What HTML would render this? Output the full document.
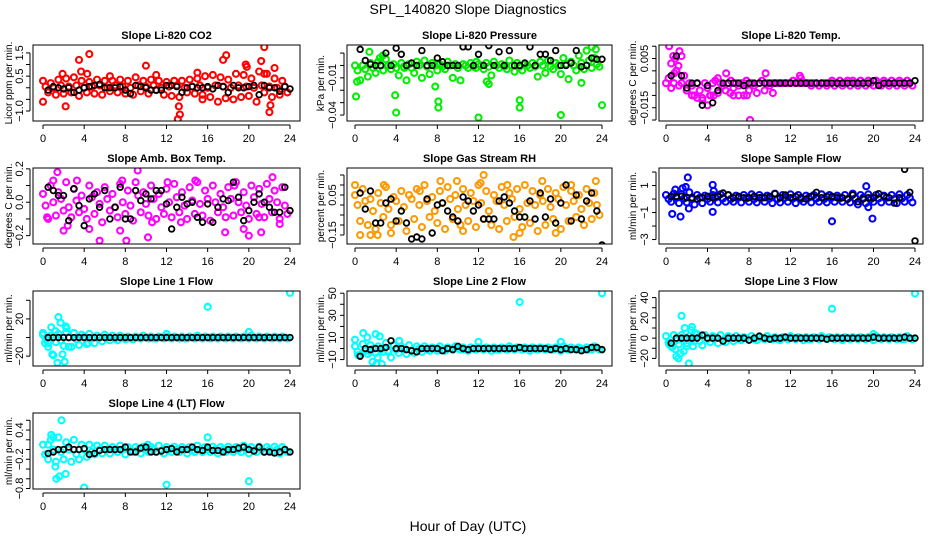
<!DOCTYPE html>
<html><head><meta charset="utf-8"><style>
html,body{margin:0;padding:0;background:#fff;}
svg{display:block;font-family:"Liberation Sans",Arial,sans-serif;}
</style></head><body>
<svg id="chart" width="936" height="540" viewBox="0 0 936 540" xmlns="http://www.w3.org/2000/svg">
<text x="468" y="14" text-anchor="middle" font-size="14">SPL_140820  Slope Diagnostics</text>
<text x="468" y="531" text-anchor="middle" font-size="14">Hour of Day (UTC)</text>
</svg>
<script>
const xTicks=[0,4,8,12,16,20,24];
// ---- panel data ----
const co2Band=[0.3,0.05,-0.2,0.2,0.0,-0.3,0.35,0.1,-0.25,0.4,0.05,-0.2,0.45,0.1,-0.35,0.3,0.0,-0.2,0.25,0.05,-0.25,0.35,0.1,-0.3,
0.3,0.0,-0.15,0.3,0.1,-0.2,0.35,0.05,-0.25,0.3,0.0,-0.3,0.45,0.1,-0.15,0.3,0.05,-0.25,0.35,0.1,-0.1,0.3,0.0,-0.3,
0.25,0.05,-0.35,0.3,0.1,-0.4,0.3,0.0,-0.2,0.35,0.05,-0.25,0.4,0.1,-0.5,0.5,0.0,-0.4,0.55,0.1,-0.6,0.45,0.05,-0.45,
0.35,0.0,-0.5,0.6,0.1,-0.4,0.55,0.05,-0.35,0.4,0.0,-0.6,0.7,0.1,-0.2,0.6,0.05,-0.4,0.4,0.0,-0.3,0.3,0.05,-0.2];
const co2OutX=[0,4.5,3.5,4.3,3.7,6.5,10,11,13.2,13.1,13.3,15,15.5,17.8,17.5,19.7,19.8,21.2,21.5,21.5,22,22.1,22.5,2.2,1.9];
const co2OutY=[-0.6,1.45,1.2,0.6,0.7,0.5,0.95,0.55,-0.8,-1.35,-1.15,0.65,-0.3,1.4,1.2,1.0,0.9,1.15,1.75,0.6,-1.05,-0.75,0.85,-0.8,0.6];
const co2Black=[-0.1,0.05,0.0,-0.05,0.0,-0.2,-0.1,0.0,0.05,0.1,0.15,0.0,0.0,0.0,0.05,-0.1,-0.25,0.1,0.05,0.0,-0.1,-0.1,-0.1,0.1,0.1,0.05,-0.2,0.0,0.05,0.0,0.0,0.05,-0.05,0.1,0.05,-0.2,0.1,0.0,0.0,0.05,0.1,-0.3,0.1,0.0,0.0,-0.15,0.05,-0.05];

const presBand=[0.0,-0.004,-0.012,0.0,-0.003,-0.009,0.002,-0.002,-0.006,0.003,0.0,-0.004,0.005,0.0,-0.003,0.001,-0.002,-0.008,0.002,-0.001,-0.012,0.001,-0.002,-0.006,
0.003,0.0,-0.01,0.004,-0.001,-0.007,0.002,0.0,-0.004,0.001,-0.001,-0.003,0.003,0.0,-0.01,0.001,-0.002,-0.012,0.001,0.0,-0.002,0.002,-0.001,-0.002,
0.001,0.0,-0.003,0.002,-0.001,-0.008,0.003,0.0,-0.002,0.001,-0.001,-0.003,0.004,0.0,-0.005,0.002,-0.001,-0.004,0.001,0.0,-0.002,0.002,-0.001,-0.009,
0.003,0.0,-0.006,0.004,-0.001,-0.003,0.002,0.0,-0.007,0.006,0.001,-0.011,0.003,0.0,-0.004,0.008,0.002,-0.003,0.012,0.004,-0.002,0.006,0.001,-0.001];
const presOutX=[0.1,0.2,4,3.9,8.1,8.1,12,16,16,20,24,7.8,13,12.8,22,1.4,4.8,11.8,2.7,2.4,23,23.4];
const presOutY=[-0.025,-0.013,-0.038,-0.024,-0.034,-0.029,-0.042,-0.028,-0.034,-0.040,-0.032,-0.017,-0.015,-0.013,-0.014,0.011,-0.002,0.003,0.008,0.006,0.015,0.013];
const presBlack=[0.013,0.004,0.001,0.0,0.0,0.01,0.0,0.014,0.009,0.0,0.002,0.0,0.012,0.0,0.0,0.006,0.003,0.0,0.0,0.0,0.015,0.015,0.0,0.009,0.0,0.016,0.0,0.011,0.0,0.012,0.0,0.0,0.002,0.015,0.0,0.009,0.009,0.004,0.012,0.0,0.0,0.002,0.012,-0.001,0.0,0.006,0.005,0.005];

const tempBand=[-0.005,-0.003,-0.007,-0.005,0.0,-0.006,-0.005,-0.002,-0.008,-0.005,-0.006,-0.01,-0.005,-0.008,-0.011,-0.005,-0.007,-0.01,-0.005,-0.004,-0.009,-0.005,-0.006,-0.008,
-0.005,-0.004,-0.007,-0.005,-0.006,-0.005,-0.005,-0.004,-0.008,-0.005,-0.006,-0.009,-0.005,-0.004,-0.008,-0.005,-0.006,-0.005,-0.005,-0.005,-0.005,-0.005,-0.005,-0.005,
-0.005,-0.004,-0.005,-0.005,-0.005,-0.005,-0.005,-0.005,-0.006,-0.005,-0.005,-0.006,-0.005,-0.005,-0.006,-0.005,-0.004,-0.006,-0.005,-0.004,-0.006,-0.005,-0.004,-0.006,
-0.004,-0.005,-0.006,-0.004,-0.005,-0.006,-0.004,-0.005,-0.006,-0.004,-0.005,-0.006,-0.004,-0.005,-0.006,-0.004,-0.005,-0.006,-0.004,-0.005,-0.006,-0.004,-0.005,-0.006];
const tempOutX=[0.3,0.4,0.5,0.7,0.9,1.2,1.3,1.5,1.0,0.8,2.0,2.5,3.0,3.5,4.0,4.3,4.6,5.0,5.8,6.2,6.5,7.0,7.5,7.8,8.1,9.6,10.3,13.0,12.9];
const tempOutY=[0.01,0.012,0.003,0.006,0.005,0.002,0.008,0.006,0.0,-0.001,-0.008,-0.01,-0.011,-0.012,-0.014,-0.01,-0.01,-0.003,-0.001,-0.009,-0.01,-0.01,-0.01,-0.01,-0.02,-0.001,-0.009,-0.003,-0.002];
const tempBlack=[-0.002,0.006,-0.002,-0.007,-0.005,-0.005,-0.014,-0.006,-0.013,-0.008,-0.005,-0.005,-0.005,-0.005,-0.006,-0.005,-0.005,-0.005,-0.005,-0.005,-0.005,-0.005,-0.005,-0.005,-0.005,-0.005,-0.005,-0.005,-0.005,-0.005,-0.005,-0.005,-0.005,-0.005,-0.005,-0.005,-0.005,-0.005,-0.005,-0.004,-0.006,-0.005,-0.005,-0.005,-0.005,-0.005,-0.005,-0.004];

const ambBand=[0.05,-0.02,-0.1,0.1,0.0,-0.08,0.06,0.02,-0.05,0.12,-0.03,-0.09,0.08,0.01,-0.06,0.04,-0.04,-0.1,0.1,0.03,-0.07,0.06,-0.01,-0.12,
0.09,0.02,-0.05,0.05,-0.03,-0.09,0.11,0.0,-0.07,0.07,-0.02,-0.11,0.12,0.04,-0.06,0.06,-0.01,-0.08,0.1,0.02,-0.1,0.05,-0.03,-0.07,
0.08,0.0,-0.09,0.11,0.03,-0.06,0.06,-0.02,-0.1,0.09,0.01,-0.07,0.12,-0.01,-0.08,0.07,0.02,-0.11,0.1,0.0,-0.06,0.05,-0.03,-0.09,
0.09,0.02,-0.08,0.12,0.0,-0.06,0.06,-0.02,-0.1,0.1,0.03,-0.07,0.08,-0.01,-0.09,0.11,0.02,-0.06,0.07,0.0,-0.1,0.09,-0.02,-0.07];
const ambOutX=[1.4,1.0,2.0,2.4,3.3,4.5,5.5,7.7,8.1,9.2,10.2,10.6,12.1,13.4,14.8,17.7,18.6,19.5,20.0,21.0,21.2,22.3,23.0,7.5,0.4];
const ambOutY=[0.18,0.13,-0.17,-0.14,0.13,-0.16,-0.23,0.13,-0.23,0.19,-0.21,-0.12,0.12,-0.12,0.13,-0.18,0.10,-0.16,-0.2,-0.09,-0.18,0.15,-0.13,-0.17,-0.09];
const ambBlack=[0.09,0.07,0.04,0.04,-0.11,0.08,-0.02,-0.14,0.02,0.05,-0.03,0.07,-0.1,-0.03,0.09,-0.1,-0.1,0.07,0.01,0.05,0.02,0.07,0.07,-0.01,-0.16,-0.03,0.03,-0.01,0.0,-0.09,-0.12,-0.01,-0.12,-0.03,0.02,0.01,0.12,0.03,-0.11,-0.05,0.0,0.05,0.0,-0.03,-0.06,-0.06,0.09,-0.05];

const rhBand=[0.05,0.0,-0.08,0.08,0.02,-0.1,0.03,-0.03,-0.12,0.06,0.01,-0.06,0.09,-0.02,-0.1,0.04,0.02,-0.08,0.07,-0.01,-0.13,0.05,0.03,-0.07,
0.08,0.0,-0.11,0.1,0.02,-0.06,0.04,-0.03,-0.09,0.07,0.01,-0.12,0.09,0.03,-0.07,0.05,-0.02,-0.1,0.08,0.0,-0.08,0.06,0.02,-0.11,
0.1,0.01,-0.07,0.07,-0.03,-0.1,0.05,0.02,-0.12,0.09,0.0,-0.08,0.06,0.03,-0.06,0.08,-0.02,-0.11,0.1,0.01,-0.09,0.07,0.0,-0.13,
0.05,0.02,-0.1,0.08,-0.01,-0.07,0.06,0.03,-0.12,0.09,0.0,-0.08,0.07,0.02,-0.06,0.05,-0.02,-0.1,0.08,0.01,-0.07,0.06,0.0,-0.05];
const rhOutX=[0,0.5,1.5,2.2,2.8,3.5,8.3,9.9,12.5,12.2,14.8,15.4,18.2,19.5,23.4,21.0,16.0,10.5,6.3];
const rhOutY=[0.1,-0.15,-0.15,-0.15,0.1,-0.14,0.12,0.12,0.15,0.11,0.1,-0.16,0.12,-0.14,0.12,0.1,-0.14,-0.13,0.07];
const rhBlack=[0.06,-0.02,0.07,-0.09,-0.09,0.01,0.03,-0.08,-0.03,-0.09,-0.17,-0.16,-0.17,0.03,-0.14,0.0,0.01,-0.03,-0.06,-0.08,0.04,0.02,-0.03,0.0,-0.07,-0.07,-0.07,0.02,0.04,0.01,-0.03,-0.06,-0.06,0.02,-0.07,0.06,-0.06,0.03,-0.09,0.01,0.1,-0.08,0.05,-0.07,0.02,0.06,-0.03,-0.2];

const sfBand=[0.3,0.0,-0.2,0.4,0.1,-0.3,0.35,0.05,-0.25,0.5,0.0,-0.4,0.3,0.1,-0.3,0.25,0.0,-0.2,0.3,0.1,-0.25,0.35,0.05,-0.2,
0.3,0.0,-0.2,0.25,0.1,-0.25,0.3,0.05,-0.2,0.35,0.0,-0.25,0.3,0.1,-0.2,0.25,0.05,-0.3,0.4,0.0,-0.25,0.3,0.1,-0.2,
0.35,0.05,-0.3,0.3,0.0,-0.2,0.25,0.1,-0.25,0.3,0.05,-0.2,0.35,0.0,-0.25,0.3,0.1,-0.2,0.25,0.05,-0.2,0.3,0.0,-0.25,
0.4,0.05,-0.4,0.3,0.1,-0.3,0.35,0.0,-0.2,0.3,0.05,-0.25,0.25,0.1,-0.2,0.3,0.0,-0.3,0.35,0.05,-0.2,0.3,0.1,-0.25];
const sfOutX=[2.1,1.9,0.6,1.4,4.5,4.6,4.5,0.9,19.3,19.5,19.9,16.0,1.6,2.2];
const sfOutY=[1.6,0.9,-1.1,-1.3,1.05,0.6,-0.95,0.7,0.95,-0.6,-1.45,-1.65,0.8,-0.7];
const sfBlack=[0.2,0.2,0.2,0.1,0.1,0.0,0.1,0.2,0.1,0.2,0.45,0.3,0.1,0.2,0.1,0.1,0.2,0.1,0.1,0.2,0.4,0.1,0.3,0.1,0.2,0.1,0.0,0.2,0.5,0.1,0.2,0.2,0.1,0.1,0.0,0.3,-0.2,0.0,0.1,0.1,0.4,0.2,0.1,-0.3,0.1,2.2,0.5,-3.1];

const l1Band=[3,-2,-6,2,0,-5,4,-3,-9,6,0,-10,5,-2,-8,3,1,-7,4,-1,-6,2,0,-4,
3,0,-3,2,-1,-3,2,0,-2,1,-1,-2,1,0,-1,2,0,-1,1,-1,-1,1,0,-1,
1,0,-1,1,0,-1,1,-1,-1,1,0,-1,2,0,-1,1,0,-1,1,0,-1,1,0,-1,
1,0,-1,1,0,-1,1,0,-1,2,0,-1,1,0,-1,1,0,-1,1,0,-1,1,0,-1];
const l1OutX=[0,0.2,0.5,0.8,0.9,1.2,1.5,1.7,1.9,2.1,2.3,2.5,2.2,1.4,1.0,16,24,20,12,4.4,3.0];
const l1OutY=[5,-6,-10,11,-18,7,22,16,-18,-26,10,-10,12,-27,-19,33,48,6,4,-6,5];
const l1Black=[0,0,0,0,0,0,0,0,0,0,0,0,0,0,0,0,0,0,0,0,0,0,0,0,0,0,0,0,0,0,0,0,0,0,0,0,0,0,0,0,0,0,0,0,0,0,0,0];

const l2Band=[2,-3,-6,4,-2,-5,3,0,-4,2,-1,-3,5,-3,-8,3,-1,-4,2,0,-5,3,-2,-4,
2,0,-3,2,-1,-2,1,0,-2,2,-1,-2,1,0,-1,2,0,-1,1,-1,-2,1,0,-1,
1,0,-1,1,0,-2,1,-1,-1,1,0,-1,2,0,-1,1,0,-1,1,0,-2,1,0,-1,
1,0,-1,1,0,-1,1,0,-2,2,0,-1,1,0,-1,1,0,-1,1,-1,-1,2,0,-1];
const l2OutX=[0,0.3,0.8,1.2,2.0,2.2,2.4,1.5,1.7,2.6,2.1,16,24,20,12,4.3,3.2];
const l2OutY=[8,-6,14,10,13,-8,11,-3,-12,-14,-14,42,50,6,6,7,-2];
const l2Black=[-7,0,-1,0,0,1,7,0,0,-1,-2,-3,0,0,0,0,-2,0,-1,2,0,-1,0,0,0,0,0,0,0,0,0,1,0,0,0,0,0,-1,0,-1,0,-1,-1,-2,-1,1,1,-1];

const l3Band=[2,-4,-8,3,-2,-6,3,0,-5,2,-1,-3,4,-3,-7,3,-1,-4,2,0,-5,3,-2,-4,
2,0,-3,2,-1,-2,1,0,-2,2,-1,-2,1,0,-1,2,0,-1,1,-1,-2,1,0,-1,
1,0,-1,1,0,-2,1,-1,-1,1,0,-1,2,0,-1,1,0,-1,1,0,-2,1,0,-1,
1,0,-1,1,0,-1,1,0,-2,2,0,-1,1,0,-1,1,0,-1,1,-1,-1,2,0,-1];
const l3OutX=[0.3,0.6,0.9,1.0,1.2,1.4,1.5,1.7,1.8,2.0,2.2,2.4,2.5,2.6,2.8,16,24,20,12];
const l3OutY=[-6,-9,-11,-18,-20,-15,22,-13,10,-8,-25,8,11,-8,5,29,44,4,2];
const l3Black=[-5,0,0,0,0,0,3,0,0,0,-3,0,0,0,0,-2,0,2,0,-1,0,0,1,0,0,0,0,0,0,0,-1,0,0,0,0,0,0,0,0,1,0,0,0,0,0,1,0,0];

const l4Band=[0.1,-0.1,-0.2,0.2,0.0,-0.25,0.25,-0.05,-0.2,0.15,0.0,-0.25,0.2,-0.1,-0.2,0.1,0.0,-0.15,0.1,-0.05,-0.1,0.08,0.0,-0.08,
0.08,0.0,-0.08,0.05,0.0,-0.05,0.08,0.0,-0.1,0.05,-0.02,-0.05,0.05,0.0,-0.08,0.06,0.0,-0.05,0.05,0.0,-0.05,0.08,-0.02,-0.08,
0.05,0.0,-0.05,0.06,0.0,-0.05,0.05,0.0,-0.08,0.05,-0.02,-0.05,0.08,0.0,-0.05,0.05,0.0,-0.05,0.06,0.0,-0.08,0.05,0.0,-0.05,
0.06,0.0,-0.05,0.05,0.0,-0.05,0.08,0.0,-0.08,0.05,-0.02,-0.05,0.06,0.0,-0.05,0.05,0.0,-0.05,0.06,0.0,-0.08,0.05,0.0,-0.05];
const l4OutX=[1.8,1.0,1.3,1.6,2.2,0.5,0.8,16,4,12,20,0.2,10.2,1.2];
const l4OutY=[0.6,0.25,-0.6,-0.55,-0.5,0.1,0.3,0.25,-0.78,-0.72,-0.65,-0.1,0.1,-0.35];
const l4Black=[-0.08,-0.05,0.0,0.0,0.05,0.0,0.0,0.02,-0.1,-0.08,-0.02,0.0,0.0,0.0,0.0,0.05,-0.05,-0.05,0.03,0.05,-0.05,-0.05,-0.03,0.0,0.02,-0.05,0.0,0.0,0.05,0.0,-0.02,0.05,-0.02,-0.02,-0.05,0.0,0.0,0.03,0.05,0.0,-0.03,0.05,-0.05,-0.05,-0.07,-0.05,0.0,-0.05];

// tick values & labels
const co2Ticks=[-1,-0.5,0,0.5,1,1.5], co2Labels=["-1.0","","","0.5","","1.5"];
const presTicks=[-0.04,-0.03,-0.02,-0.01,0,0.01], presLabels=["-0.04","","","-0.01","",""];
const tempTicks=[-0.02,-0.015,-0.01,-0.005,0,0.005,0.01], tempLabels=["","-0.015","","","","0.005",""];
const ambTicks=[-0.2,-0.1,0,0.1,0.2], ambLabels=["-0.2","","0.0","","0.2"];
const rhTicks=[-0.15,-0.1,-0.05,0,0.05,0.1,0.15], rhLabels=["-0.15","","","","0.05","",""];
const sfTicks=[-3,-2,-1,0,1,2], sfLabels=["-3","","-1","","1",""];
const l1Ticks=[-20,0,20,40], l1Labels=["-20","","20",""];
const l2Ticks=[-10,0,10,20,30,40,50], l2Labels=["-10","","10","","30","","50"];
const l3Ticks=[-20,-10,0,10,20,30,40], l3Labels=["-20","","0","","20","","40"];
const l4Ticks=[-0.8,-0.6,-0.4,-0.2,0,0.2,0.4,0.6], l4Labels=["-0.8","","","-0.2","","","0.4",""];

// layout (geometry, not data)
const cols=[{bx0:33,bx1:300,x0:43,x1:290,tl:19,at:8},{bx0:347,bx1:612,x0:355,x1:602,tl:332,at:320},{bx0:659,bx1:923,x0:666,x1:915,tl:644,at:632}];
const rows=[{by0:45,by1:121},{by0:168,by1:244},{by0:291,by1:366},{by0:413,by1:489}];
const panels=[
 {name:"co2",title:"Slope Li-820 CO2",ylab:"Licor ppm per min.",c:0,r:0,col:"#ff0000",band:co2Band,ox:co2OutX,oy:co2OutY,blk:co2Black,tk:co2Ticks,tl:co2Labels,ymin:-1.43,ymax:1.84},
 {name:"pressure",title:"Slope Li-820 Pressure",ylab:"kPa per min.",c:1,r:0,col:"#00ee00",band:presBand,ox:presOutX,oy:presOutY,blk:presBlack,tk:presTicks,tl:presLabels,ymin:-0.0448,ymax:0.0165},
 {name:"temp",title:"Slope Li-820 Temp.",ylab:"degrees C per min.",c:2,r:0,col:"#ff00ff",band:tempBand,ox:tempOutX,oy:tempOutY,blk:tempBlack,tk:tempTicks,tl:tempLabels,ymin:-0.0204,ymax:0.0105},
 {name:"amb-box-temp",title:"Slope Amb. Box Temp.",ylab:"degrees C per min.",c:0,r:1,col:"#ff00ff",band:ambBand,ox:ambOutX,oy:ambOutY,blk:ambBlack,tk:ambTicks,tl:ambLabels,ymin:-0.25,ymax:0.205},
 {name:"gas-stream-rh",title:"Slope Gas Stream RH",ylab:"percent per min.",c:1,r:1,col:"#ff9900",band:rhBand,ox:rhOutX,oy:rhOutY,blk:rhBlack,tk:rhTicks,tl:rhLabels,ymin:-0.195,ymax:0.185},
 {name:"sample-flow",title:"Slope Sample Flow",ylab:"ml/min per min.",c:2,r:1,col:"#0000ff",band:sfBand,ox:sfOutX,oy:sfOutY,blk:sfBlack,tk:sfTicks,tl:sfLabels,ymin:-3.33,ymax:2.3},
 {name:"line1-flow",title:"Slope Line 1 Flow",ylab:"ml/min per min.",c:0,r:2,col:"#00ffff",band:l1Band,ox:l1OutX,oy:l1OutY,blk:l1Black,tk:l1Ticks,tl:l1Labels,ymin:-30.6,ymax:50},
 {name:"line2-flow",title:"Slope Line 2 Flow",ylab:"ml/min per min.",c:1,r:2,col:"#00ffff",band:l2Band,ox:l2OutX,oy:l2OutY,blk:l2Black,tk:l2Ticks,tl:l2Labels,ymin:-15.8,ymax:52},
 {name:"line3-flow",title:"Slope Line 3 Flow",ylab:"ml/min per min.",c:2,r:2,col:"#00ffff",band:l3Band,ox:l3OutX,oy:l3OutY,blk:l3Black,tk:l3Ticks,tl:l3Labels,ymin:-27.5,ymax:46.5},
 {name:"line4-flow",title:"Slope Line 4 (LT) Flow",ylab:"ml/min per min.",c:0,r:3,col:"#00ffff",band:l4Band,ox:l4OutX,oy:l4OutY,blk:l4Black,tk:l4Ticks,tl:l4Labels,ymin:-0.81,ymax:0.75}
];
const NS="http://www.w3.org/2000/svg";
const svg=document.getElementById('chart');
function mk(tag,attrs,parent){const e=document.createElementNS(NS,tag);for(const k in attrs)e.setAttribute(k,attrs[k]);(parent||svg).appendChild(e);return e;}
panels.forEach(p=>{
  const C=cols[p.c],R=rows[p.r];
  const g=mk('g',{});
  
  
  const xs=v=>C.x0+(C.x1-C.x0)*v/24;
  const ys=v=>R.by1-(R.by1-R.by0)*(v-p.ymin)/(p.ymax-p.ymin);
  const t=mk('text',{x:(C.bx0+C.bx1)/2,y:R.by0-6,'text-anchor':'middle','font-size':'11','font-weight':'bold'},g);
  t.textContent=p.title;
  
  
  const yl=mk('text',{transform:`translate(${C.at+4},${(R.by0+R.by1)/2}) rotate(-90)`,'text-anchor':'middle','font-size':'10'},g);
  yl.textContent=p.ylab;
  
  
  const cid='clip-'+p.name;
  const cp=mk('clipPath',{id:cid},g);mk('rect',{x:C.bx0,y:R.by0,width:C.bx1-C.bx0,height:R.by1-R.by0},cp);
  const pts=mk('g',{'clip-path':`url(#${cid})`,fill:'none'},g);
  
  
  p.band.forEach((v,i)=>{
    const c=mk('circle',{cx:xs(24*i/p.band.length),cy:ys(v),r:3,stroke:p.col,'stroke-width':2.1},pts);
    
    
  });
  p.ox.forEach((x,i)=>{
    const c=mk('circle',{cx:xs(x),cy:ys(p.oy[i]),r:3,stroke:p.col,'stroke-width':2.1},pts);
    
    
  });
  p.blk.forEach((v,i)=>{
    const c=mk('circle',{cx:xs(24*(i+1)/p.blk.length),cy:ys(v),r:2.8,stroke:'#000','stroke-width':1.8},pts);
    
    
  });
  const box=mk('rect',{x:C.bx0,y:R.by0,width:C.bx1-C.bx0,height:R.by1-R.by0,fill:'none',stroke:'#000','stroke-width':1},g);
  
  
  const ax=mk('g',{stroke:'#000','stroke-width':1},g);
  
  
  const ay0=R.by1+4;
  mk('line',{x1:xs(0),x2:xs(24),y1:ay0,y2:ay0},ax);
  xTicks.forEach(v=>{
    mk('line',{x1:xs(v),x2:xs(v),y1:ay0,y2:ay0+4},ax);
    const tx=mk('text',{x:xs(v),y:ay0+17,'text-anchor':'middle','font-size':'11',stroke:'none',fill:'#000'},ax);
    tx.textContent=v;
    
    
  });
  const yax=mk('g',{stroke:'#000','stroke-width':1},g);
  
  
  const axX=C.bx0-3;
  mk('line',{x1:axX,x2:axX,y1:ys(p.tk[0]),y2:ys(p.tk[p.tk.length-1])},yax);
  p.tk.forEach((v,i)=>{
    mk('line',{x1:axX-4,x2:axX,y1:ys(v),y2:ys(v)},yax);
    if(p.tl[i]){
      const ty=mk('text',{transform:`translate(${C.tl+4},${ys(v)}) rotate(-90)`,'text-anchor':'middle','font-size':'11',stroke:'none',fill:'#000'},yax);
      ty.textContent=p.tl[i].replace('-','\u2212');
      
      
    }
  });
});
</script>
</body></html>
